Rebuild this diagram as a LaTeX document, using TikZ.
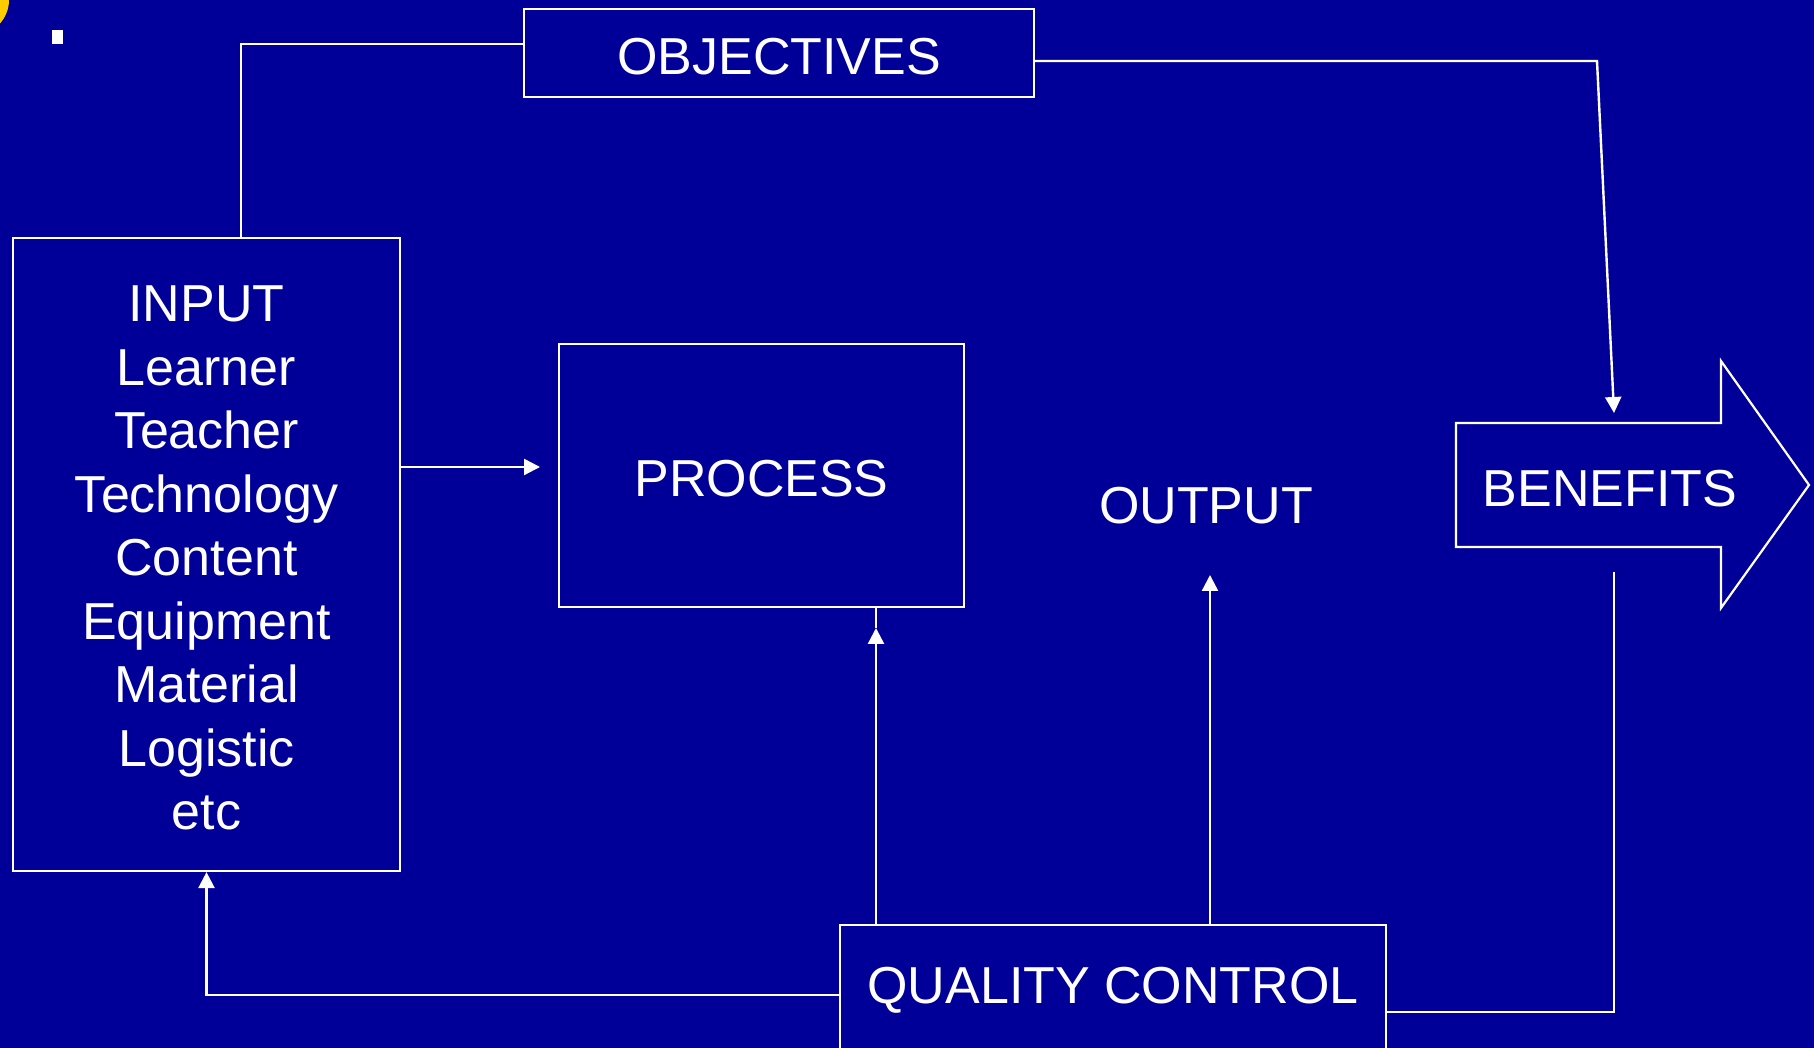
\documentclass[tikz,border=0pt]{standalone}
\usepackage{fontspec}
\setmainfont{Liberation Sans}
\usepackage{tikz}
\usetikzlibrary{arrows.meta}
\definecolor{slideblue}{RGB}{0,0,153}
\definecolor{bulletgold}{RGB}{255,204,0}
\newcommand{\slidefont}{\fontsize{52}{63.5}\selectfont}
\tikzset{
    slidebox/.style={rectangle,draw=white,line width=2.2pt,inner sep=0pt,align=center,text=white,font=\slidefont},
    slidecaps/.style={text height=43pt},
    slidelabel/.style={inner sep=0pt,text=white,font=\slidefont,text height=41pt},
    slideline/.style={-{Triangle[length=16pt,width=16pt]},draw=white,line width=2.4pt},
    slidewire/.style={draw=white,line width=2.4pt}
}

\begin{document}
\begin{tikzpicture}[x=1pt,y=1pt]
            \useasboundingbox (0,0) rectangle (1814,1048);
            \fill[slideblue] (0,0) rectangle (1814,1048);
            \clip (0,0) rectangle (1814,1048);
            \fill[bulletgold] (-26,1048) circle (35);
            \fill[white] (52,1004) rectangle (63,1018);
            \node[slidebox,slidecaps,minimum width=510pt,minimum height=88pt] (objectives) at (779,995) {OBJECTIVES};
            \node[slidebox,minimum width=387pt,minimum height=633pt] (input) at (206.5,493.5) {\rule{0pt}{43pt}INPUT\\Learner\\Teacher\\Technology\\Content\\Equipment\\Material\\Logistic\\etc};
            \node[slidebox,slidecaps,minimum width=405pt,minimum height=263pt] (process) at (761.5,572.5) {PROCESS};
            \node[slidelabel] (output) at (1206,545) {OUTPUT};
            \node[slidebox,slidecaps,minimum width=546pt,minimum height=124pt] (quality) at (1113,61) {QUALITY CONTROL};
            \draw[slidewire,line width=2.2pt] (1456,625) -- (1721,625) -- (1721,687) -- (1809,563) -- (1721,440) -- (1721,501) -- (1456,501) -- cycle;
            \node[slidelabel] (benefits) at (1610,562) {BENEFITS};
            \coordinate (objbend) at (1597,987);
            \coordinate (benefitsin) at (1614,635);
            \coordinate (benefitsout) at (1614,476);
            \coordinate (processin) at (540,581);
            \coordinate (processup) at (876,420);
            \coordinate (outputup) at (1210,473);
            \draw[slidewire] ([yshift=9pt]objectives.west) -| ([xshift=34.5pt]input.north);
            \draw[slideline] ([yshift=-8pt]objectives.east) -- (objbend) -- (benefitsin);
            \draw[slideline] (input.east |- processin) -- (processin);
            \draw[slideline] (quality.north -| processup) -- (processup);
            \draw[slidewire] (processup) -- (process.south -| processup);
            \draw[slideline] (quality.north -| outputup) -- (outputup);
            \draw[slideline] ([yshift=-8pt]quality.west) -| (input.south);
            \draw[slidewire] ([yshift=-25pt]quality.east) -| (benefitsout);
        \end{tikzpicture}
\end{document}
